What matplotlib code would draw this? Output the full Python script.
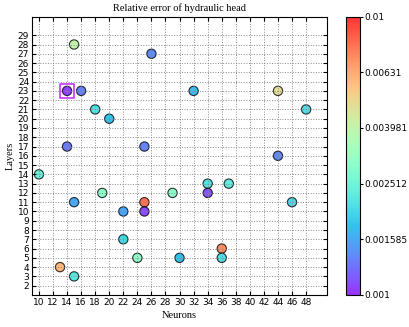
import matplotlib
matplotlib.use('Agg')
import matplotlib.pyplot as plt
import matplotlib.colors as mcolors

# neurons, layers, relative error
neurons = [14, 16, 15, 26, 18, 20, 14, 25, 32, 44, 48, 44, 10, 15, 19,
           22, 25, 25, 29, 34, 34, 37, 46, 22, 24, 30, 36, 36, 13, 15]
layers = [23, 23, 28, 27, 21, 20, 17, 17, 23, 23, 21, 16, 14, 11, 12,
          10, 11, 10, 12, 13, 12, 13, 11, 7, 5, 5, 6, 5, 4, 3]
errors = [0.00105, 0.00135, 0.0040, 0.0014, 0.00214, 0.00178, 0.0013, 0.00135,
          0.00174, 0.0048, 0.0021, 0.00138, 0.0024, 0.00158, 0.00295,
          0.00155, 0.0079, 0.0011, 0.00295, 0.00214, 0.00112, 0.0023, 0.002,
          0.002, 0.00295, 0.00178, 0.0071, 0.0021, 0.006, 0.00219]
best = (14, 23)

cbar_ticks = [0.001, 0.001585, 0.002512, 0.003981, 0.00631, 0.01]
cbar_labels = ['0.001', '0.001585', '0.002512', '0.003981', '0.00631', '0.01']

fig = plt.figure(figsize=(4.09, 3.27), dpi=100)
ax = fig.add_axes([0.078, 0.098, 0.722, 0.851])
cax = fig.add_axes([0.845, 0.098, 0.035, 0.851])

norm = mcolors.LogNorm(vmin=0.001, vmax=0.01)
sc = ax.scatter(neurons, layers, c=errors, cmap='rainbow', norm=norm, s=45,
                edgecolors='black', linewidths=0.8, alpha=0.8, zorder=1)
# highlight the best configuration
ax.scatter([best[0]], [best[1]], marker='s', s=110, facecolors='none',
           edgecolors='#cc33ff', linewidths=1.2, zorder=3)

ax.set_xlim(9, 51)
ax.set_ylim(1, 31)
ax.set_xticks(range(10, 50, 2))
ax.set_yticks(range(2, 30))
ax.tick_params(direction='in', top=True, right=True, labelsize=6.5, length=3, pad=2)
ax.grid(True, linestyle=':', color='#888888', linewidth=0.7)

serif = 'Liberation Serif'
ax.set_title('Relative error of hydraulic head', fontsize=7.5, family=serif, pad=4)
ax.set_xlabel('Neurons', fontsize=7.5, family=serif, labelpad=3)
ax.set_ylabel('Layers', fontsize=7.5, family=serif, labelpad=2)

cb = fig.colorbar(sc, cax=cax)
cb.minorticks_off()
cb.set_ticks(cbar_ticks)
cb.set_ticklabels(cbar_labels)
cb.ax.tick_params(labelsize=6.5, length=2, pad=1)

fig.savefig('out.png', dpi=100)
